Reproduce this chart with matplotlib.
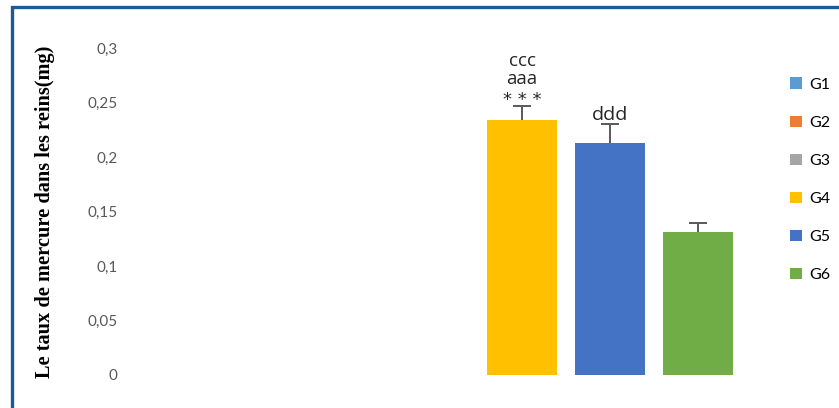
import matplotlib.pyplot as plt
from matplotlib.patches import Rectangle, Patch

# data
groups = ['G1', 'G2', 'G3', 'G4', 'G5', 'G6']
values = [0, 0, 0, 0.234, 0.213, 0.131]
errors = [0, 0, 0, 0.013, 0.017, 0.008]
colors = ['#5B9BD5', '#ED7D31', '#A5A5A5', '#FFC000', '#4472C4', '#70AD47']
yticks = [0, 0.05, 0.1, 0.15, 0.2, 0.25, 0.3]
ytick_labels = ['0', '0,05', '0,1', '0,15', '0,2', '0,25', '0,3']

W, H = 839, 408
fig = plt.figure(figsize=(W / 100, H / 100), dpi=100)
# axes placed in pixel terms: y=0 at 375px, y=0.3 at 48px from top
ax = fig.add_axes([130 / W, (H - 375) / H, (760 - 130) / W, (375 - 48) / H])

x = list(range(len(groups)))
for i in x:
    if values[i] > 0:
        ax.bar(i, values[i], width=0.8, color=colors[i], zorder=2)
        # upper error bar only
        ax.vlines(i, values[i], values[i] + errors[i], color='#595959', lw=1.4, zorder=3)
        ax.hlines(values[i] + errors[i], i - 0.1, i + 0.1, color='#595959', lw=1.4, zorder=3)

# significance marks above G4 and G5
top4 = values[3] + errors[3]
txt = dict(ha='center', va='center', textcoords='offset pixels', color='#262626')
ax.annotate('* * *', (3, top4), xytext=(0, 6), fontsize=13, family='DejaVu Sans', **txt)
ax.annotate('aaa', (3, top4), xytext=(0, 27), fontsize=13.5, family='Open Sans', **txt)
ax.annotate('ccc', (3, top4), xytext=(0, 45), fontsize=13.5, family='Open Sans', **txt)
ax.annotate('ddd', (4, values[4] + errors[4]), xytext=(0, 9), fontsize=14,
            family='Open Sans', **txt)

ax.set_xlim((130 - 258) / 88, (760 - 258) / 88)
ax.set_ylim(0, 0.3)
ax.set_yticks(yticks)
ax.set_yticklabels(ytick_labels, family='Lato', fontsize=11, color='#595959')
ax.tick_params(axis='y', length=0, pad=9)
ax.set_xticks([])
for s in ax.spines.values():
    s.set_visible(False)

fig.text(45 / W, 1 - 212 / H, 'Le taux de mercure dans les reins(mg)', rotation=90,
         ha='center', va='center', family='Liberation Serif', fontweight='bold',
         fontsize=14.7, color='black')

handles = [Patch(facecolor=c, edgecolor='none') for c in colors]
fig.legend(handles, groups, loc='upper left', bbox_to_anchor=(776 / W, 1 - 63 / H),
           frameon=False, prop={'family': 'Lato', 'size': 11.5}, labelspacing=1.5,
           handlelength=0.7, handleheight=0.7, handletextpad=0.5)

# dark blue frame around the chart (runs off right and bottom edges)
fig.patches.append(Rectangle((11.5 / W, -0.1), 1.2, 1 - 7 / H + 0.1,
                             transform=fig.transFigure, fill=False,
                             edgecolor='#1F5A96', linewidth=2.4))

fig.savefig('out.png', dpi=100)
